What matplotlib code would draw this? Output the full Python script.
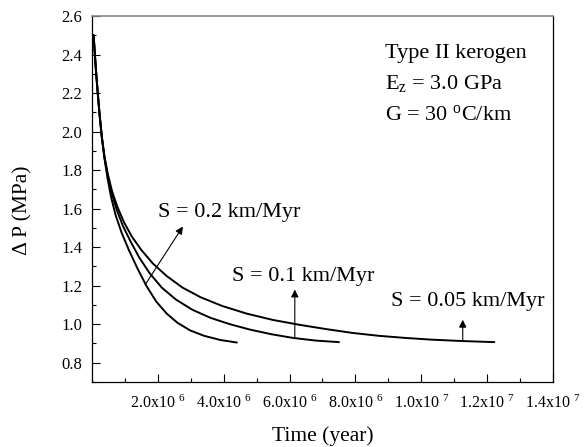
import matplotlib
matplotlib.use('Agg')
import matplotlib.pyplot as plt
from matplotlib.ticker import FixedLocator, MultipleLocator

plt.rcParams['font.family'] = ['Liberation Serif', 'DejaVu Serif']
plt.rcParams['mathtext.fontset'] = 'custom'
plt.rcParams['mathtext.rm'] = 'Liberation Serif'
plt.rcParams['mathtext.it'] = 'Liberation Serif:italic'

# values (time in units of 1e6 years, pressure in MPa)
t_s02 = [0.05, 0.08, 0.12, 0.17, 0.23, 0.30, 0.38, 0.47, 0.58, 0.72, 0.90, 1.12, 1.38, 1.65,
         1.95, 2.27, 2.6, 2.98, 3.4, 3.9, 4.4]
p_s02 = [2.50, 2.42, 2.32, 2.21, 2.09, 1.97, 1.86, 1.76, 1.66, 1.565, 1.475, 1.385, 1.29, 1.20,
         1.118, 1.055, 1.007, 0.968, 0.94, 0.918, 0.905]

t_s01 = [0.05, 0.08, 0.12, 0.17, 0.23, 0.30, 0.38, 0.48, 0.60, 0.75, 0.94, 1.17, 1.44, 1.75,
         2.12, 2.55, 3.05, 3.6, 4.19, 4.8, 5.45, 6.1, 6.8, 7.5]
p_s01 = [2.50, 2.42, 2.32, 2.21, 2.09, 1.97, 1.865, 1.77, 1.68, 1.595, 1.51, 1.43, 1.345, 1.265,
         1.19, 1.128, 1.075, 1.033, 1.0, 0.972, 0.948, 0.929, 0.915, 0.907]

t_s005 = [0.05, 0.08, 0.12, 0.17, 0.23, 0.30, 0.38, 0.48, 0.61, 0.77, 0.97, 1.21, 1.5, 1.85,
          2.27, 2.75, 3.3, 3.95, 4.7, 5.5, 6.3, 7.1, 7.9, 8.7, 9.5, 10.3, 11.2, 12.22]
p_s005 = [2.50, 2.42, 2.32, 2.21, 2.09, 1.97, 1.87, 1.78, 1.69, 1.61, 1.53, 1.455, 1.385, 1.315,
          1.25, 1.19, 1.14, 1.095, 1.055, 1.022, 0.997, 0.975, 0.955, 0.94, 0.929, 0.92, 0.913, 0.907]

x_ticks = [2, 4, 6, 8, 10, 12, 14]
x_tick_labels = ['2.0x10 $^{6}$', '4.0x10 $^{6}$', '6.0x10 $^{6}$', '8.0x10 $^{6}$',
                 '1.0x10 $^{7}$', '1.2x10 $^{7}$', '1.4x10 $^{7}$']

scale = 1e6

fig = plt.figure(figsize=(5.87, 4.47), dpi=100)
ax = fig.add_axes([0.1567, 0.1454, 0.7853, 0.8188])

for t, p in [(t_s02, p_s02), (t_s01, p_s01), (t_s005, p_s005)]:
    ax.plot([v * scale for v in t], p, color='black', lw=1.4,
            solid_capstyle='round', solid_joinstyle='round')

ax.set_xlim(0, 1.4e7)
ax.set_ylim(0.7, 2.6)

ax.xaxis.set_major_locator(FixedLocator([v * scale for v in x_ticks]))
ax.set_xticklabels(x_tick_labels)
ax.xaxis.set_minor_locator(MultipleLocator(1e6))
ax.yaxis.set_major_locator(FixedLocator([0.8, 1.0, 1.2, 1.4, 1.6, 1.8, 2.0, 2.2, 2.4, 2.6]))
ax.yaxis.set_minor_locator(MultipleLocator(0.1))
ax.yaxis.set_major_formatter(plt.FormatStrFormatter('%.1f'))

ax.tick_params(axis='both', which='both', direction='in', top=False, right=False)
ax.tick_params(axis='both', which='major', length=6, width=0.8)
ax.tick_params(axis='both', which='minor', length=3, width=0.8)
ax.tick_params(axis='x', labelsize=11.5, pad=9)
ax.tick_params(axis='y', labelsize=12, pad=7)

for side in ['left', 'right', 'bottom']:
    ax.spines[side].set_linewidth(0.9)
ax.spines['top'].set_color('#8a8a8a')
ax.spines['top'].set_linewidth(1.2)

ax.set_xlabel('Time (year)', fontsize=15.5)
ax.xaxis.set_label_coords(0.5, -0.12)
ax.set_ylabel('Δ P (MPa)', fontsize=15.5)
ax.yaxis.set_label_coords(-0.128, 0.47)

# arrows and labels
arrow = dict(arrowstyle='-|>', color='black', lw=0.8, mutation_scale=11, shrinkA=0, shrinkB=0)
ax.annotate('', xy=(2.76e6, 1.507), xytext=(1.615e6, 1.205), arrowprops=arrow)
ax.annotate('', xy=(6.16e6, 1.18), xytext=(6.16e6, 0.926), arrowprops=arrow)
ax.annotate('', xy=(11.26e6, 1.023), xytext=(11.26e6, 0.911), arrowprops=arrow)

ax.text(4.16e6, 1.58, 'S = 0.2 km/Myr', fontsize=16, ha='center', va='center')
ax.text(6.41e6, 1.25, 'S = 0.1 km/Myr', fontsize=16, ha='center', va='center')
ax.text(11.41e6, 1.12, 'S = 0.05 km/Myr', fontsize=16, ha='center', va='center')

ax.text(8.89e6, 2.406, 'Type II kerogen', fontsize=16, ha='left', va='center')
ax.text(8.89e6, 2.252, r'E$_{\mathrm{z}}$ = 3.0 GPa', fontsize=16, ha='left', va='center')
ax.text(8.89e6, 2.086, r'G = 30 $^{\mathrm{o}}$C/km', fontsize=16, ha='left', va='center')

fig.savefig('out.png', dpi=100)
